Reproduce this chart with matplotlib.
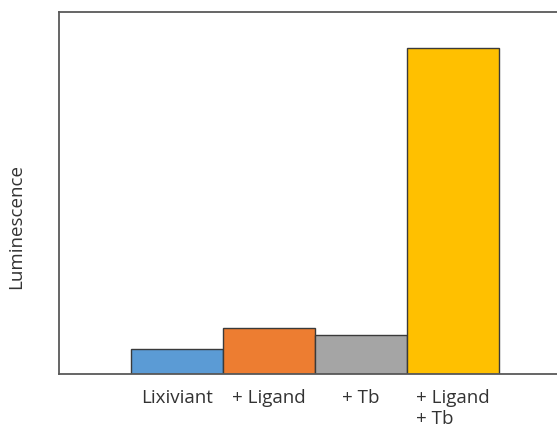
import matplotlib
matplotlib.use("Agg")
import matplotlib.pyplot as plt

categories = ["Lixiviant", "+ Ligand", "+ Tb", "+ Ligand\n+ Tb"]
luminescence = [0.069, 0.127, 0.108, 0.900]
colors = ["#5B9BD5", "#ED7D31", "#A5A5A5", "#FFC000"]

plt.rcParams["font.family"] = ["Open Sans", "DejaVu Sans"]

fig = plt.figure(figsize=(5.57, 4.27), dpi=100)
ax = fig.add_axes([59 / 557, 52 / 427, 1 - 59 / 557, 362 / 427])

x = list(range(len(categories)))
ax.bar(x, luminescence, width=1.0, color=colors, edgecolor="#3a3a3a", linewidth=1.0)

ax.set_xlim(-1.28, 4.13)
ax.set_ylim(0, 1)
ax.set_xticks(x)
ax.set_xticklabels(categories, fontsize=13.5, color="#333333",
                   multialignment="left", linespacing=1.25)
ax.set_yticks([])
ax.tick_params(axis="x", length=0, pad=10)

for side in ["left", "top", "bottom", "right"]:
    ax.spines[side].set_color("#595959")
    ax.spines[side].set_linewidth(1.3)
ax.spines["right"].set_visible(False)

ax.set_ylabel("Luminescence", fontsize=13.5, color="#333333")
ax.yaxis.set_label_coords(-0.068, 0.409)

fig.savefig("out.png", dpi=100)
